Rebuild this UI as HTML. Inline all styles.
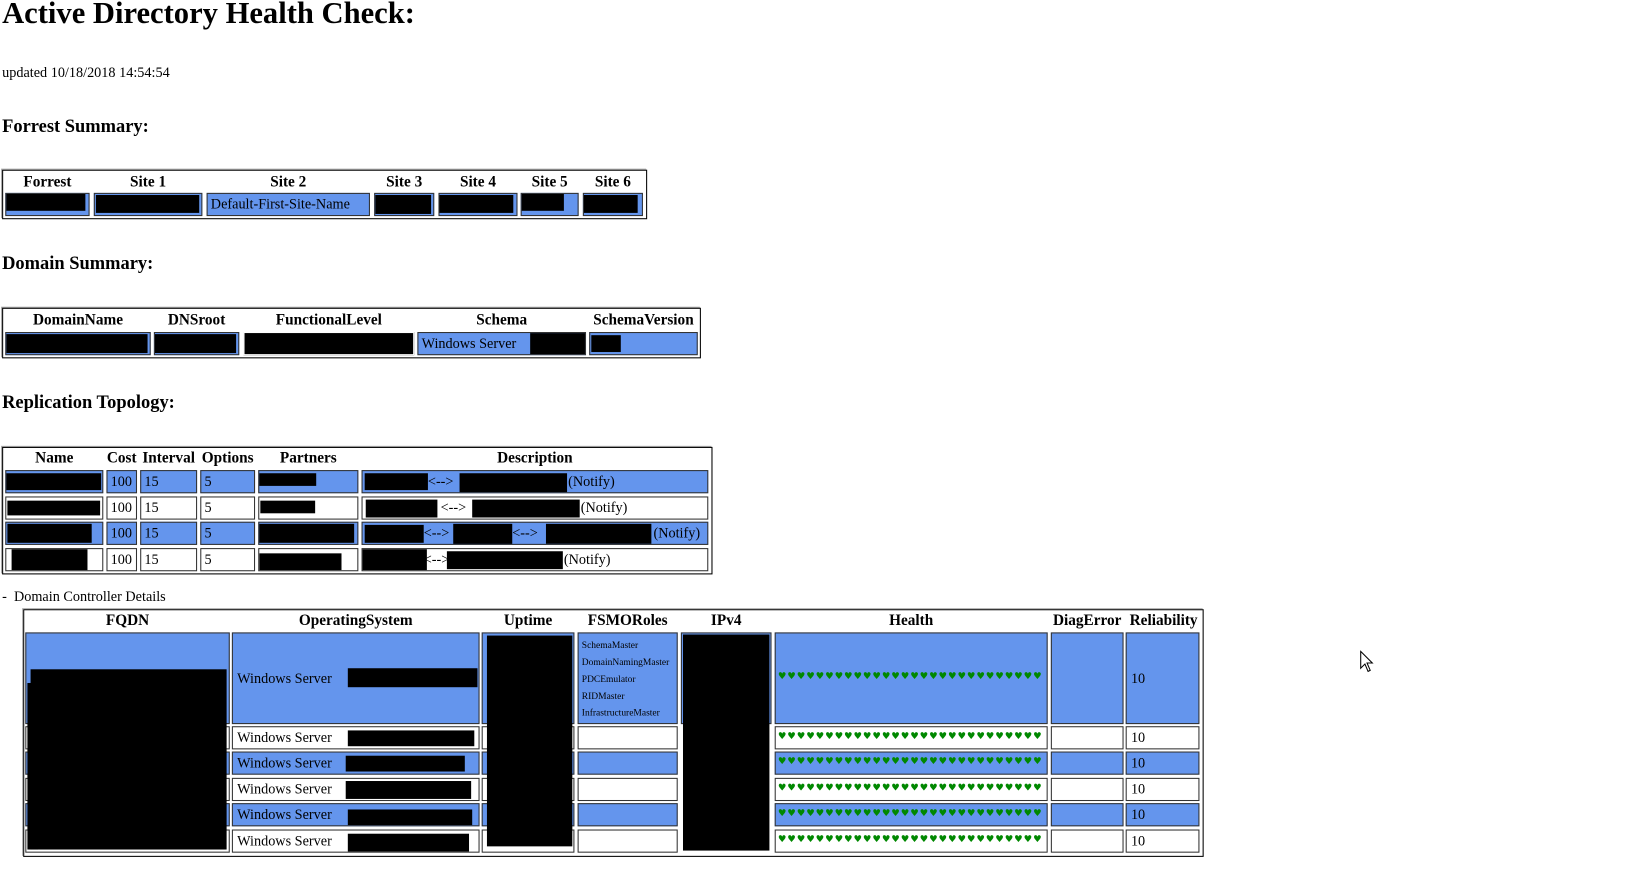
<!DOCTYPE html>
<html><head><meta charset="utf-8"><style>
html,body{margin:0;padding:0;background:#fff;width:1651px;height:869px;overflow:hidden}
#w{position:absolute;left:0;top:0;width:1567px;height:825px;transform:scale(1.054);transform-origin:0 0;font-family:"Liberation Serif",serif;color:#000}
div{position:absolute;box-sizing:border-box}
.t{border:1px solid #000;box-shadow:-1px -1px 0 #aaa}
.c{border:1px solid #333;font-size:13.5px;padding-left:3px;white-space:nowrap;overflow:hidden;background:#fff}
.b{background:#6495ED}
.k{background:#000}
.h{font-weight:bold;font-size:14.5px;text-align:center;white-space:nowrap;margin-top:1px}
.hr{color:#080;font-family:"DejaVu Sans",sans-serif;font-size:9px;letter-spacing:0.9px;white-space:nowrap}
.f{font-size:9px;line-height:16px;padding-top:3px}
.s{font-size:17.5px;font-weight:bold;white-space:nowrap}
</style></head><body><div id="w">
<div style="left:2px;top:-3px;font-size:29px;font-weight:bold;white-space:nowrap">Active Directory Health Check:</div>
<div style="left:2px;top:61px;font-size:13.5px;white-space:nowrap">updated 10/18/2018 14:54:54</div>
<div class="s" style="left:2px;top:109px">Forrest Summary:</div>

<div class="t" style="left:2px;top:161px;width:612px;height:47px"></div>
<div class="h" style="left:5px;top:164px;width:80px">Forrest</div>
<div class="h" style="left:89px;top:164px;width:103px">Site 1</div>
<div class="h" style="left:196px;top:164px;width:155px">Site 2</div>
<div class="h" style="left:355px;top:164px;width:57px">Site 3</div>
<div class="h" style="left:416px;top:164px;width:75px">Site 4</div>
<div class="h" style="left:494px;top:164px;width:55px">Site 5</div>
<div class="h" style="left:553px;top:164px;width:57px">Site 6</div>
<div class="c b" style="left:5px;top:183px;width:80px;height:22px"><div class="k" style="left:-3px;top:0;width:78px;height:16px"></div></div>
<div class="c b" style="left:89px;top:183px;width:103px;height:22px"><div class="k" style="left:1px;top:1px;width:98px;height:17px"></div></div>
<div class="c b" style="left:196px;top:183px;width:155px;height:22px;line-height:20px">Default-First-Site-Name</div>
<div class="c b" style="left:355px;top:183px;width:57px;height:22px"><div class="k" style="left:0;top:1px;width:53px;height:18px"></div></div>
<div class="c b" style="left:416px;top:183px;width:75px;height:22px"><div class="k" style="left:-2px;top:1px;width:72px;height:17px"></div></div>
<div class="c b" style="left:494px;top:183px;width:55px;height:22px"><div class="k" style="left:-2px;top:0;width:42px;height:16px"></div></div>
<div class="c b" style="left:553px;top:183px;width:57px;height:22px"><div class="k" style="left:-1px;top:1px;width:52px;height:17px"></div></div>

<div class="s" style="left:2px;top:239px">Domain Summary:</div>
<div class="t" style="left:2px;top:292px;width:663px;height:48px"></div>
<div class="h" style="left:5px;top:295px;width:138px">DomainName</div>
<div class="h" style="left:146px;top:295px;width:81px">DNSroot</div>
<div class="h" style="left:231px;top:295px;width:162px">FunctionalLevel</div>
<div class="h" style="left:396px;top:295px;width:160px">Schema</div>
<div class="h" style="left:559px;top:295px;width:103px">SchemaVersion</div>
<div class="c b" style="left:5px;top:315px;width:138px;height:22px"><div class="k" style="left:0;top:1px;width:134px;height:18px"></div></div>
<div class="c b" style="left:146px;top:315px;width:81px;height:22px"><div class="k" style="left:0;top:1px;width:77px;height:18px"></div></div>
<div class="c k" style="left:231px;top:315px;width:162px;height:22px;border-color:#fff"></div>
<div class="c b" style="left:396px;top:315px;width:160px;height:22px;line-height:20px">Windows Server<div class="k" style="left:106px;top:-1px;width:54px;height:22px"></div></div>
<div class="c b" style="left:559px;top:315px;width:103px;height:22px"><div class="k" style="left:1px;top:2px;width:28px;height:16px"></div></div>

<div class="s" style="left:2px;top:371px">Replication Topology:</div>
<div class="t" style="left:2px;top:424px;width:674px;height:121px"></div>
<div class="h" style="left:5px;top:426px;width:93px">Name</div>
<div class="h" style="left:101px;top:426px;width:29px">Cost</div>
<div class="h" style="left:133px;top:426px;width:54px">Interval</div>
<div class="h" style="left:190px;top:426px;width:52px">Options</div>
<div class="h" style="left:245px;top:426px;width:95px">Partners</div>
<div class="h" style="left:343px;top:426px;width:329px">Description</div>

<div class="c b" style="left:5px;top:446px;width:93px;height:22px"><div class="k" style="left:-3px;top:2px;width:93px;height:16px"></div></div>
<div class="c b" style="left:101px;top:446px;width:29px;height:22px;line-height:20px">100</div>
<div class="c b" style="left:133px;top:446px;width:54px;height:22px;line-height:20px">15</div>
<div class="c b" style="left:190px;top:446px;width:52px;height:22px;line-height:20px">5</div>
<div class="c b" style="left:245px;top:446px;width:95px;height:22px"><div class="k" style="left:-1px;top:2px;width:55px;height:12px"></div></div>
<div class="c b" style="left:343px;top:446px;width:329px;height:22px;line-height:20px"><span style="position:absolute;left:62px">&lt;--&gt;</span><span style="position:absolute;left:195px">(Notify)</span><div class="k" style="left:2px;top:2px;width:60px;height:16px"></div><div class="k" style="left:92px;top:2px;width:102px;height:18px"></div></div>
<div class="c" style="left:5px;top:471px;width:93px;height:22px"><div class="k" style="left:1px;top:3px;width:88px;height:14px"></div></div>
<div class="c" style="left:101px;top:471px;width:29px;height:22px;line-height:20px">100</div>
<div class="c" style="left:133px;top:471px;width:54px;height:22px;line-height:20px">15</div>
<div class="c" style="left:190px;top:471px;width:52px;height:22px;line-height:20px">5</div>
<div class="c" style="left:245px;top:471px;width:95px;height:22px"><div class="k" style="left:1px;top:3px;width:52px;height:12px"></div></div>
<div class="c" style="left:343px;top:471px;width:329px;height:22px;line-height:20px"><span style="position:absolute;left:74px">&lt;--&gt;</span><span style="position:absolute;left:207px">(Notify)</span><div class="k" style="left:3px;top:2px;width:68px;height:17px"></div><div class="k" style="left:104px;top:2px;width:102px;height:17px"></div></div>
<div class="c b" style="left:5px;top:495px;width:93px;height:22px"><div class="k" style="left:1px;top:1px;width:80px;height:18px"></div></div>
<div class="c b" style="left:101px;top:495px;width:29px;height:22px;line-height:20px">100</div>
<div class="c b" style="left:133px;top:495px;width:54px;height:22px;line-height:20px">15</div>
<div class="c b" style="left:190px;top:495px;width:52px;height:22px;line-height:20px">5</div>
<div class="c b" style="left:245px;top:495px;width:95px;height:22px"><div class="k" style="left:-1px;top:1px;width:91px;height:18px"></div></div>
<div class="c b" style="left:343px;top:495px;width:329px;height:22px;line-height:20px"><span style="position:absolute;left:58px">&lt;--&gt;</span><span style="position:absolute;left:142px">&lt;--&gt;</span><span style="position:absolute;left:276px">(Notify)</span><div class="k" style="left:2px;top:2px;width:56px;height:17px"></div><div class="k" style="left:86px;top:1px;width:56px;height:21px"></div><div class="k" style="left:174px;top:1px;width:100px;height:19px"></div></div>
<div class="c" style="left:5px;top:520px;width:93px;height:22px"><div class="k" style="left:5px;top:0;width:72px;height:20px"></div></div>
<div class="c" style="left:101px;top:520px;width:29px;height:22px;line-height:20px">100</div>
<div class="c" style="left:133px;top:520px;width:54px;height:22px;line-height:20px">15</div>
<div class="c" style="left:190px;top:520px;width:52px;height:22px;line-height:20px">5</div>
<div class="c" style="left:245px;top:520px;width:95px;height:22px"><div class="k" style="left:0;top:4px;width:78px;height:16px"></div></div>
<div class="c" style="left:343px;top:520px;width:329px;height:22px;line-height:20px"><span style="position:absolute;left:58px">&lt;--&gt;</span><span style="position:absolute;left:191px">(Notify)</span><div class="k" style="left:-3px;top:0;width:64px;height:20px"></div><div class="k" style="left:80px;top:2px;width:110px;height:17px"></div></div>

<div style="left:2px;top:558px;font-size:13.5px;white-space:nowrap">-&nbsp; Domain Controller Details</div>
<div class="t" style="left:22px;top:578px;width:1120px;height:235px"></div>
<div class="h" style="left:24px;top:580px;width:194px">FQDN</div>
<div class="h" style="left:220px;top:580px;width:235px">OperatingSystem</div>
<div class="h" style="left:457px;top:580px;width:88px">Uptime</div>
<div class="h" style="left:548px;top:580px;width:95px">FSMORoles</div>
<div class="h" style="left:646px;top:580px;width:86px">IPv4</div>
<div class="h" style="left:735px;top:580px;width:259px">Health</div>
<div class="h" style="left:997px;top:580px;width:69px">DiagError</div>
<div class="h" style="left:1068px;top:580px;width:72px">Reliability</div>

<div class="c b" style="left:24px;top:600px;width:194px;height:87px"></div>
<div class="c b" style="left:220px;top:600px;width:235px;height:87px;line-height:85px;padding-left:4px">Windows Server<div class="k" style="left:109px;top:33px;width:123px;height:18px"></div></div>
<div class="c b" style="left:457px;top:600px;width:88px;height:87px"></div>
<div class="c b f" style="left:548px;top:600px;width:95px;height:87px">SchemaMaster<br>DomainNamingMaster<br>PDCEmulator<br>RIDMaster<br>InfrastructureMaster</div>
<div class="c b" style="left:646px;top:600px;width:86px;height:87px"></div>
<div class="c b" style="left:735px;top:600px;width:259px;height:87px"><div class="hr" style="left:2px;top:36px">♥♥♥♥♥♥♥♥♥♥♥♥♥♥♥♥♥♥♥♥♥♥♥♥♥♥♥♥</div></div>
<div class="c b" style="left:997px;top:600px;width:69px;height:87px"></div>
<div class="c b" style="left:1068px;top:600px;width:70px;height:87px;line-height:85px;padding-left:4px">10</div>

<div class="c" style="left:24px;top:689px;width:194px;height:22px"></div>
<div class="c b" style="left:24px;top:713px;width:194px;height:22px"></div>
<div class="c" style="left:24px;top:738px;width:194px;height:22px"></div>
<div class="c b" style="left:24px;top:762px;width:194px;height:22px"></div>
<div class="c" style="left:24px;top:787px;width:194px;height:22px"></div>

<div class="c" style="left:220px;top:689px;width:235px;height:22px;line-height:20px;padding-left:4px">Windows Server<div class="k" style="left:109px;top:3px;width:120px;height:15px"></div></div>
<div class="c b" style="left:220px;top:713px;width:235px;height:22px;line-height:20px;padding-left:4px">Windows Server<div class="k" style="left:107px;top:3px;width:113px;height:15px"></div></div>
<div class="c" style="left:220px;top:738px;width:235px;height:22px;line-height:20px;padding-left:4px">Windows Server<div class="k" style="left:107px;top:2px;width:119px;height:17px"></div></div>
<div class="c b" style="left:220px;top:762px;width:235px;height:22px;line-height:20px;padding-left:4px">Windows Server<div class="k" style="left:109px;top:5px;width:118px;height:15px"></div></div>
<div class="c" style="left:220px;top:787px;width:235px;height:22px;line-height:20px;padding-left:4px">Windows Server<div class="k" style="left:109px;top:3px;width:115px;height:17px"></div></div>

<div class="c" style="left:457px;top:689px;width:88px;height:22px"></div>
<div class="c b" style="left:457px;top:713px;width:88px;height:22px"></div>
<div class="c" style="left:457px;top:738px;width:88px;height:22px"></div>
<div class="c b" style="left:457px;top:762px;width:88px;height:22px"></div>
<div class="c" style="left:457px;top:787px;width:88px;height:22px"></div>

<div class="c" style="left:548px;top:689px;width:95px;height:22px"></div>
<div class="c b" style="left:548px;top:713px;width:95px;height:22px"></div>
<div class="c" style="left:548px;top:738px;width:95px;height:22px"></div>
<div class="c b" style="left:548px;top:762px;width:95px;height:22px"></div>
<div class="c" style="left:548px;top:787px;width:95px;height:22px"></div>

<div class="c" style="left:735px;top:689px;width:259px;height:22px"><div class="hr" style="left:2px;top:4px">♥♥♥♥♥♥♥♥♥♥♥♥♥♥♥♥♥♥♥♥♥♥♥♥♥♥♥♥</div></div>
<div class="c b" style="left:735px;top:713px;width:259px;height:22px"><div class="hr" style="left:2px;top:4px">♥♥♥♥♥♥♥♥♥♥♥♥♥♥♥♥♥♥♥♥♥♥♥♥♥♥♥♥</div></div>
<div class="c" style="left:735px;top:738px;width:259px;height:22px"><div class="hr" style="left:2px;top:4px">♥♥♥♥♥♥♥♥♥♥♥♥♥♥♥♥♥♥♥♥♥♥♥♥♥♥♥♥</div></div>
<div class="c b" style="left:735px;top:762px;width:259px;height:22px"><div class="hr" style="left:2px;top:4px">♥♥♥♥♥♥♥♥♥♥♥♥♥♥♥♥♥♥♥♥♥♥♥♥♥♥♥♥</div></div>
<div class="c" style="left:735px;top:787px;width:259px;height:22px"><div class="hr" style="left:2px;top:4px">♥♥♥♥♥♥♥♥♥♥♥♥♥♥♥♥♥♥♥♥♥♥♥♥♥♥♥♥</div></div>

<div class="c" style="left:997px;top:689px;width:69px;height:22px"></div>
<div class="c b" style="left:997px;top:713px;width:69px;height:22px"></div>
<div class="c" style="left:997px;top:738px;width:69px;height:22px"></div>
<div class="c b" style="left:997px;top:762px;width:69px;height:22px"></div>
<div class="c" style="left:997px;top:787px;width:69px;height:22px"></div>

<div class="c" style="left:1068px;top:689px;width:70px;height:22px;line-height:20px;padding-left:4px">10</div>
<div class="c b" style="left:1068px;top:713px;width:70px;height:22px;line-height:20px;padding-left:4px">10</div>
<div class="c" style="left:1068px;top:738px;width:70px;height:22px;line-height:20px;padding-left:4px">10</div>
<div class="c b" style="left:1068px;top:762px;width:70px;height:22px;line-height:20px;padding-left:4px">10</div>
<div class="c" style="left:1068px;top:787px;width:70px;height:22px;line-height:20px;padding-left:4px">10</div>

<div class="k" style="left:29px;top:635px;width:186px;height:171px"></div>
<div class="k" style="left:26px;top:648px;width:10px;height:158px"></div>
<div class="k" style="left:462px;top:603px;width:81px;height:200px"></div>
<div class="k" style="left:648px;top:602px;width:82px;height:205px"></div>

<svg style="position:absolute;left:1290px;top:617px" width="20" height="26" viewBox="0 0 20 26"><path d="M1 1 L1 17 L5 13 L8 20 L10 19 L7 12 L12 12 Z" fill="#fff" stroke="#000" stroke-width="1"/></svg>
</div></body></html>
